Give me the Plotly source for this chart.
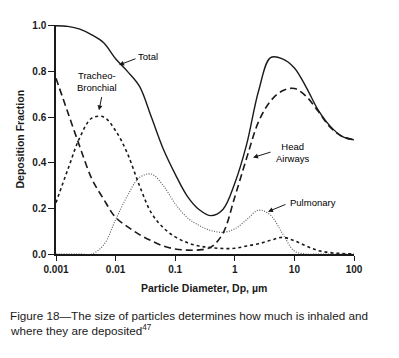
import plotly.graph_objects as go

# Particle diameter (µm), read at fifth-of-a-decade steps
diameter = [0.001, 0.00158, 0.00251, 0.00398, 0.00631, 0.01, 0.0158, 0.0251, 0.0398, 0.0631,
            0.1, 0.158, 0.251, 0.398, 0.631, 1, 1.58, 2.51, 3.98, 6.31,
            10, 15.8, 25.1, 39.8, 63.1, 100]

total = [1.0, 0.997, 0.985, 0.96, 0.925, 0.855, 0.80, 0.735, 0.60, 0.46,
         0.35, 0.255, 0.195, 0.168, 0.195, 0.31, 0.48, 0.715, 0.86, 0.855,
         0.815, 0.73, 0.63, 0.56, 0.515, 0.50]

head_airways = [0.77, 0.62, 0.47, 0.33, 0.24, 0.16, 0.12, 0.085, 0.058, 0.035,
                0.022, 0.017, 0.018, 0.03, 0.09, 0.25, 0.42, 0.58, 0.67, 0.715,
                0.725, 0.69, 0.625, 0.555, 0.515, 0.50]

tracheo_bronchial = [0.225, 0.37, 0.51, 0.595, 0.60, 0.54, 0.44, 0.30, 0.18, 0.115,
                     0.075, 0.05, 0.035, 0.028, 0.024, 0.025, 0.035, 0.045, 0.06, 0.073,
                     0.058, 0.035, 0.015, 0.006, 0.002, 0.0]

pulmonary = [0.0, 0.0, 0.0, 0.0, 0.04, 0.15, 0.255, 0.335, 0.35, 0.30,
             0.22, 0.16, 0.125, 0.103, 0.095, 0.11, 0.15, 0.192, 0.17, 0.09,
             0.013, 0.0, 0.0, 0.0, 0.0, 0.0]

x_tickvals = [0.001, 0.01, 0.1, 1, 10, 100]
x_ticktext = ["0.001", "0.01", "0.1", "1", "10", "100"]
y_tickvals = [0.0, 0.2, 0.4, 0.6, 0.8, 1.0]
y_ticktext = ["0.0", "0.2", "0.4", "0.6", "0.8", "1.0"]

FONT = "Liberation Sans, Arial, sans-serif"
INK = "#1a1a1a"

fig = go.Figure()
fig.add_trace(go.Scatter(x=diameter, y=pulmonary, mode="lines", name="Pulmonary",
                         line=dict(color="#555", width=1.1, dash="1px,1.5px", shape="spline")))
fig.add_trace(go.Scatter(x=diameter, y=tracheo_bronchial, mode="lines", name="Tracheo-Bronchial",
                         line=dict(color=INK, width=1.6, dash="3px,3px", shape="spline")))
fig.add_trace(go.Scatter(x=diameter, y=head_airways, mode="lines", name="Head Airways",
                         line=dict(color=INK, width=1.6, dash="7px,4px", shape="spline")))
fig.add_trace(go.Scatter(x=diameter, y=total, mode="lines", name="Total",
                         line=dict(color=INK, width=1.4, shape="spline")))

# page pixel -> data helpers (plot area spans page x 56..354, y 22..254)
def lg(px):
    return -3 + (px - 56) / 59.6

def vy(py):
    return (254 - py) / 232

def paper_x(px):
    return (px - 56) / 298

def paper_y(py):
    return (254 - py) / 232

ann_font = dict(family=FONT, size=9.5, color="#000")
annotations = []

def label(text, px, py, xanchor="center"):
    annotations.append(dict(x=lg(px), y=vy(py), xref="x", yref="y", text=text,
                            showarrow=False, xanchor=xanchor, yanchor="middle", font=ann_font))

def arrow(tx, ty, hx, hy):
    annotations.append(dict(x=lg(hx), y=vy(hy), xref="x", yref="y",
                            ax=lg(tx), ay=vy(ty), axref="x", ayref="y", text="",
                            showarrow=True, arrowhead=2, arrowsize=1, arrowwidth=1,
                            arrowcolor=INK, standoff=0, startstandoff=0))

label("Total", 148, 53)
arrow(137, 55, 119, 62)
label("Tracheo-<br>Bronchial", 97, 79)
arrow(102, 93, 99, 108)
label("Head<br>Airways", 274, 151, xanchor="left")
arrow(272, 150, 253, 156)
label("Pulmonary", 288, 202, xanchor="left")
arrow(287, 203, 268, 211)

# axis titles
annotations.append(dict(x=paper_x(204), y=paper_y(288), xref="paper", yref="paper",
                        text="Particle Diameter, Dp, µm", showarrow=False,
                        xanchor="center", yanchor="middle",
                        font=dict(family=FONT, size=10.5, color=INK, weight="bold")))
annotations.append(dict(x=paper_x(19), y=paper_y(138), xref="paper", yref="paper",
                        text="Deposition Fraction", showarrow=False, textangle=-90,
                        xanchor="center", yanchor="middle",
                        font=dict(family=FONT, size=10.5, color=INK, weight="bold")))
# caption
cap_font = dict(family=FONT, size=11.7, color=INK)
annotations.append(dict(x=paper_x(8), y=paper_y(316), xref="paper", yref="paper",
                        text="Figure 18—The size of particles determines how much is inhaled and",
                        showarrow=False, xanchor="left", yanchor="middle", font=cap_font))
annotations.append(dict(x=paper_x(8), y=paper_y(331), xref="paper", yref="paper",
                        text="where they are deposited<sup>47</sup>",
                        showarrow=False, xanchor="left", yanchor="middle", font=cap_font))

# the page body has an 8px margin, so the figure is 8px smaller and offset
fig.update_layout(
    width=391, height=350,
    margin=dict(l=48, r=45, t=14, b=104),
    paper_bgcolor="white", plot_bgcolor="white",
    showlegend=False,
    annotations=annotations,
    xaxis=dict(type="log", range=[-3, 2], tickvals=x_tickvals, ticktext=x_ticktext,
               ticks="outside", ticklen=5, tickwidth=1.3, tickcolor=INK,
               showline=True, linecolor=INK, linewidth=1.5, showgrid=False, zeroline=False,
               tickfont=dict(family=FONT, size=10, color=INK, weight="bold")),
    yaxis=dict(range=[0, 1.003], tickvals=y_tickvals, ticktext=y_ticktext,
               ticks="outside", ticklen=6, tickwidth=1.3, tickcolor=INK,
               showline=True, linecolor=INK, linewidth=1.5, showgrid=False, zeroline=False,
               tickfont=dict(family=FONT, size=10, color=INK, weight="bold")),
)

fig.write_html("out.html")
